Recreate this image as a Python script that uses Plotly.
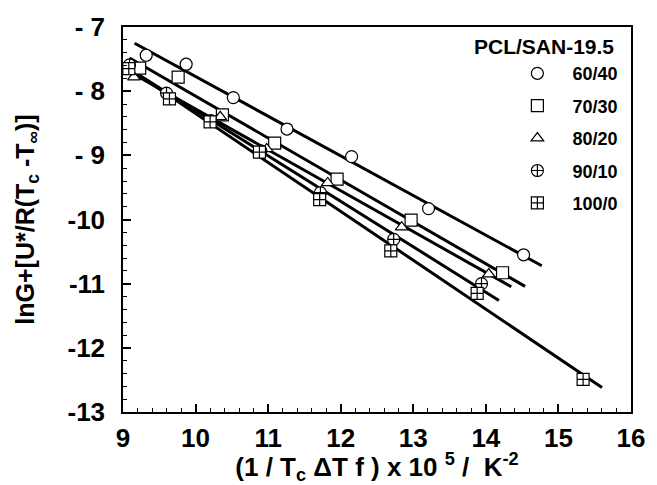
import numpy as np
import plotly.graph_objects as go

# ---- data ----
series_names = ["60/40", "70/30", "80/20", "90/10", "100/0"]
symbols = ["circle", "square", "triangle-up", "circle-cross", "square-cross"]

x_6040 = [9.32, 9.87, 10.52, 11.26, 12.15, 13.21, 14.52]
y_6040 = [-7.44, -7.58, -8.10, -8.59, -9.02, -9.83, -10.55]

x_7030 = [9.23, 9.76, 10.37, 11.09, 11.95, 12.97, 14.23]
y_7030 = [-7.64, -7.78, -8.37, -8.81, -9.37, -10.01, -10.83]

x_8020 = [9.15, 9.65, 10.34, 10.98, 11.82, 12.84, 14.04]
y_8020 = [-7.78, -8.08, -8.40, -8.90, -9.43, -10.12, -10.85]

x_9010 = [9.09, 9.60, 10.21, 10.90, 11.72, 12.73, 13.94]
y_9010 = [-7.59, -8.03, -8.46, -8.93, -9.58, -10.31, -11.00]

x_1000 = [9.08, 9.64, 10.20, 10.88, 11.71, 12.69, 13.88, 15.34]
y_1000 = [-7.65, -8.12, -8.48, -8.95, -9.69, -10.49, -11.15, -12.49]

# x-extent of each fitted line
line_x_start = [9.16, 9.09, 9.07, 9.05, 9.05]
line_x_end = [14.77, 14.54, 14.35, 14.18, 15.60]

x_tick_vals = [9, 10, 11, 12, 13, 14, 15, 16]
x_tick_text = ["9", "10", "11", "12", "13", "14", "15", "16"]
y_tick_vals = [-7, -8, -9, -10, -11, -12, -13]
y_tick_text = ["- 7", "- 8", "- 9", "-10", "-11", "-12", "-13"]

xs = [x_6040, x_7030, x_8020, x_9010, x_1000]
ys = [y_6040, y_7030, y_8020, y_9010, y_1000]

FONT = "Arial, Liberation Sans, Helvetica, sans-serif"
NB = "\u00a0"

fig = go.Figure()

# fitted lines
for i in range(5):
    k, b = np.polyfit(xs[i], ys[i], 1)
    lx = np.array([line_x_start[i], line_x_end[i]])
    fig.add_trace(go.Scatter(x=lx, y=k * lx + b, mode="lines",
                             line=dict(color="black", width=3),
                             showlegend=False, hoverinfo="skip"))

# markers
for i in range(5):
    fig.add_trace(go.Scatter(
        x=xs[i], y=ys[i], mode="markers",
        name=NB * 3 + "<b>" + series_names[i] + "</b>",
        legendgroup=series_names[i],
        marker=dict(symbol=symbols[i], size=12 if i != 2 else 11,
                    color="white", line=dict(color="black", width=1.2))))

fig.add_annotation(text="<b>PCL/SAN-19.5</b>", xref="paper", yref="paper",
                   x=0.97, y=0.95, xanchor="right", yanchor="middle",
                   showarrow=False, font=dict(family=FONT, size=21, color="black"))

axis_common = dict(
    showgrid=False, zeroline=False, showline=True, linecolor="black",
    linewidth=1.5, mirror=True, ticks="inside", ticklen=8, tickwidth=1.5,
    tickcolor="black",
    tickfont=dict(family=FONT, size=26, color="black", weight="bold"),
)

fig.update_layout(
    width=657, height=485,
    margin=dict(l=123, r=17, t=25, b=73),
    paper_bgcolor="white", plot_bgcolor="white",
    font=dict(family=FONT, color="black"),
    xaxis=dict(range=[9, 16], tickvals=x_tick_vals,
               ticktext=["<b>" + t + "</b>" for t in x_tick_text],
               ticklabelstandoff=2,
               minor=dict(dtick=0.2, ticks="inside", ticklen=4, tickwidth=1, tickcolor="black"),
               title=dict(text="<b>(1 / T<sub>c</sub> ΔT f ) x 10 <sup>5</sup> /  K<sup>-2</sup></b>",
                          font=dict(family=FONT, size=26, color="black"),
                          standoff=0),
               **axis_common),
    yaxis=dict(range=[-13, -7], tickvals=y_tick_vals,
               ticktext=["<b>" + t + "</b>" for t in y_tick_text],
               ticklabelstandoff=11,
               minor=dict(dtick=0.2, ticks="inside", ticklen=4, tickwidth=1, tickcolor="black"),
               title=dict(text="<b>lnG+[U*/R(T<sub>c</sub> -T<sub>∞</sub>)]</b>",
                          font=dict(family=FONT, size=25, color="black"),
                          standoff=26),
               **axis_common),
    legend=dict(x=0.985, y=0.927, xanchor="right", yanchor="top",
                bgcolor="rgba(0,0,0,0)", borderwidth=0,
                font=dict(family=FONT, size=18, color="black"),
                tracegroupgap=6, itemwidth=30),
)

fig.write_html("out.html")
